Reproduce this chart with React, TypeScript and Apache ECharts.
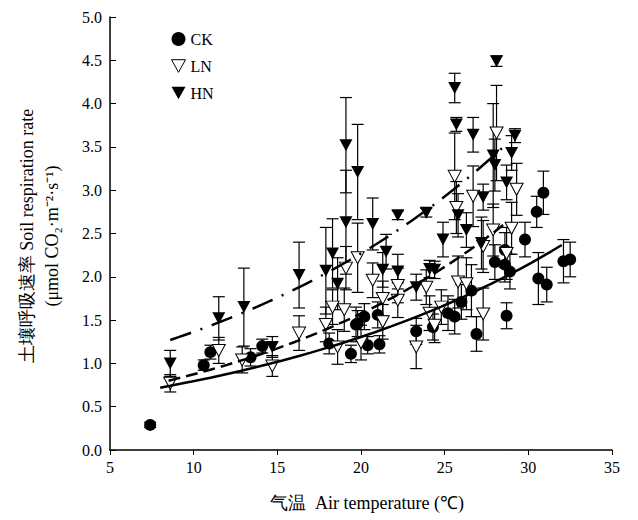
import { useEffect, useRef } from "react";
import * as echarts from "echarts";

// [temperature, rate, sd]
const ckData = [
  [7.4, 0.29, 0.03], [10.6, 0.98, 0.06], [11.0, 1.13, 0.08], [13.4, 1.07, 0.1], [14.1, 1.2, 0.08],
  [18.1, 1.23, 0.12], [19.4, 1.11, 0.1], [19.8, 1.46, 0.15], [19.7, 1.45, 0.2], [20.2, 1.54, 0.15],
  [20.4, 1.21, 0.1], [21.0, 1.56, 0.15], [21.1, 1.22, 0.1], [23.3, 1.37, 0.15], [24.3, 1.42, 0.15],
  [25.2, 1.58, 0.2], [25.6, 1.54, 0.2], [26.0, 1.71, 0.2], [26.6, 1.84, 0.3], [26.9, 1.34, 0.2],
  [28.0, 2.17, 0.2], [28.6, 2.31, 0.2], [28.6, 2.14, 0.2], [28.9, 2.06, 0.2], [28.7, 1.55, 0.15],
  [29.8, 2.43, 0.2], [30.5, 2.75, 0.18], [30.9, 2.97, 0.25], [30.6, 1.98, 0.3], [31.1, 1.91, 0.2],
  [32.1, 2.18, 0.25], [32.5, 2.2, 0.2],
];
const lnData = [
  [8.6, 0.77, 0.1], [11.5, 1.15, 0.15], [12.9, 1.04, 0.15], [14.7, 0.97, 0.12], [16.3, 1.35, 0.2],
  [17.9, 1.45, 0.2], [18.3, 1.65, 0.2], [18.6, 1.19, 0.2], [19.0, 1.62, 0.25], [19.1, 2.1, 0.25],
  [19.8, 2.22, 0.4], [20.0, 1.24, 0.2], [20.7, 1.96, 0.2], [21.3, 1.48, 0.2], [21.3, 1.75, 0.2],
  [22.2, 1.9, 0.2], [22.2, 1.73, 0.2], [23.3, 1.19, 0.25], [23.9, 1.88, 0.2], [24.1, 1.58, 0.2],
  [24.4, 1.44, 0.2], [24.8, 1.65, 0.2], [25.8, 1.94, 0.3], [26.3, 1.92, 0.3], [25.6, 3.16, 0.5],
  [25.7, 2.8, 0.3], [26.7, 2.93, 0.35], [27.3, 1.57, 0.3], [27.3, 2.35, 0.3], [27.9, 2.54, 0.3],
  [28.1, 3.66, 0.55], [28.7, 2.27, 0.3], [29.0, 2.56, 0.3], [29.3, 3.01, 0.3],
];
const hnData = [
  [8.6, 1.0, 0.15], [11.5, 1.52, 0.25], [13.0, 1.65, 0.45], [14.7, 1.19, 0.12], [16.3, 2.02, 0.38],
  [17.9, 2.07, 0.5], [18.3, 2.27, 0.4], [18.6, 1.92, 0.3], [19.1, 2.63, 0.6], [19.1, 3.52, 0.55],
  [19.8, 3.21, 0.55], [20.7, 2.61, 0.3], [21.5, 2.29, 0.2], [21.3, 2.08, 0.2], [22.2, 2.06, 0.2],
  [22.2, 2.71, 0.05], [23.9, 2.74, 0.05], [23.3, 1.88, 0.15], [24.1, 2.09, 0.1], [24.4, 2.08, 0.1],
  [24.9, 2.43, 0.2], [25.6, 4.18, 0.17], [25.7, 3.76, 0.08], [25.8, 2.71, 0.25], [26.3, 2.54, 0.2],
  [26.7, 3.64, 0.2], [27.3, 2.92, 0.15], [27.2, 2.39, 0.3], [28.1, 4.49, 0.06], [27.9, 3.4, 0.6],
  [28.0, 3.29, 0.3], [28.7, 3.09, 0.2], [29.0, 3.43, 0.2], [29.2, 3.63, 0.08],
];
// exponential fits y = a*exp(b*x): [a, b, xmin, xmax]
const ckFit = [0.484, 0.0496, 8, 32];
const lnFit = [0.485, 0.0589, 8.5, 28.5];
const hnFit = [0.82, 0.0509, 8.6, 28.5];

const fitLine = (f: number[]) => {
  const pts: number[][] = [];
  for (let i = 0; i <= 40; i++) {
    const x = f[2] + ((f[3] - f[2]) * i) / 40;
    pts.push([x, f[0] * Math.exp(f[1] * x)]);
  }
  return pts;
};

const errSeries = (data: number[][]) => ({
  type: "custom",
  silent: true,
  z: 1,
  data,
  renderItem: (_p: any, api: any) => {
    const x = api.value(0);
    const y = api.value(1);
    const e = api.value(2);
    const top = api.coord([x, y + e]);
    const bot = api.coord([x, y - e]);
    const st = { stroke: "#000", lineWidth: 1.2 };
    return {
      type: "group",
      children: [
        { type: "line", shape: { x1: top[0], y1: top[1], x2: bot[0], y2: bot[1] }, style: st },
        { type: "line", shape: { x1: top[0] - 6, y1: top[1], x2: top[0] + 6, y2: top[1] }, style: st },
        { type: "line", shape: { x1: bot[0] - 6, y1: bot[1], x2: bot[0] + 6, y2: bot[1] }, style: st },
      ],
    };
  },
});

const tri = "path://M0,0 L10,0 L5,9 Z";
const font = "'Liberation Serif', 'Times New Roman', serif";

export default function App() {
  const ref = useRef<HTMLDivElement>(null);
  useEffect(() => {
    if (!ref.current) return;
    const chart = echarts.init(ref.current, null, { renderer: "svg" });
    chart.setOption({
      animation: false,
      textStyle: { fontFamily: font },
      grid: { left: 110, right: 26, top: 17, bottom: 70 },
      legend: {
        orient: "vertical",
        left: 166,
        top: 26,
        itemGap: 11,
        itemWidth: 14,
        itemHeight: 14,
        textStyle: { fontSize: 16, fontFamily: font, color: "#000" },
        data: [
          { name: "CK", icon: "circle" },
          { name: "LN", icon: tri, itemStyle: { color: "#fff", borderColor: "#000", borderWidth: 1, opacity: 1 } },
          { name: "HN", icon: tri },
        ],
      },
      xAxis: {
        type: "value", min: 5, max: 35, interval: 5,
        axisLine: { lineStyle: { color: "#000", width: 1.5 } },
        axisTick: { inside: false, length: 5, lineStyle: { color: "#000" } },
        axisLabel: { color: "#000", fontSize: 16, fontFamily: font, margin: 9 },
        splitLine: { show: false },
      },
      yAxis: {
        type: "value", min: 0, max: 5, interval: 0.5,
        axisLine: { show: true, lineStyle: { color: "#000", width: 1.5 } },
        axisTick: { show: true, inside: true, length: 6, lineStyle: { color: "#000" } },
        axisLabel: { color: "#000", fontSize: 16, fontFamily: font, formatter: (v: number) => v.toFixed(1) },
        splitLine: { show: false },
      },
      graphic: [
        { type: "text", left: 270, top: 494, style: { text: "气温  Air temperature (℃)", fontSize: 18, fontFamily: font, fill: "#000" } },
        { type: "text", x: 27, y: 236, rotation: Math.PI / 2, style: { text: "土壤呼吸速率 Soil respiration rate", fontSize: 18, fontFamily: font, fill: "#000", align: "center", verticalAlign: "middle" } },
        { type: "text", x: 52, y: 236, rotation: Math.PI / 2, style: { text: "(μmol CO₂·m⁻²·s⁻¹)", fontSize: 18, fontFamily: font, fill: "#000", align: "center", verticalAlign: "middle" } },
      ],
      series: [
        errSeries(ckData), errSeries(lnData), errSeries(hnData),
        { name: "CK", type: "scatter", z: 3, symbol: "circle", symbolSize: 12, itemStyle: { color: "#000", opacity: 1 }, data: ckData.map((d) => [d[0], d[1]]) },
        { name: "LN", type: "scatter", z: 3, symbol: tri, symbolSize: [13, 12], itemStyle: { color: "#fff", borderColor: "#000", borderWidth: 1, opacity: 1 }, data: lnData.map((d) => [d[0], d[1]]) },
        { name: "HN", type: "scatter", z: 3, symbol: tri, symbolSize: [13, 12], itemStyle: { color: "#000", opacity: 1 }, data: hnData.map((d) => [d[0], d[1]]) },
        { type: "line", z: 4, showSymbol: false, silent: true, data: fitLine(ckFit), lineStyle: { color: "#000", width: 2.5 } },
        { type: "line", z: 4, showSymbol: false, silent: true, data: fitLine(lnFit), lineStyle: { color: "#000", width: 2.5, type: [12, 6] } },
        { type: "line", z: 4, showSymbol: false, silent: true, data: fitLine(hnFit), lineStyle: { color: "#000", width: 2.5, type: [22, 10, 2, 10] } },
      ],
    });
    return () => chart.dispose();
  }, []);
  return <div ref={ref} style={{ position: "absolute", left: 0, top: 0, width: 638, height: 520 }} />;
}
